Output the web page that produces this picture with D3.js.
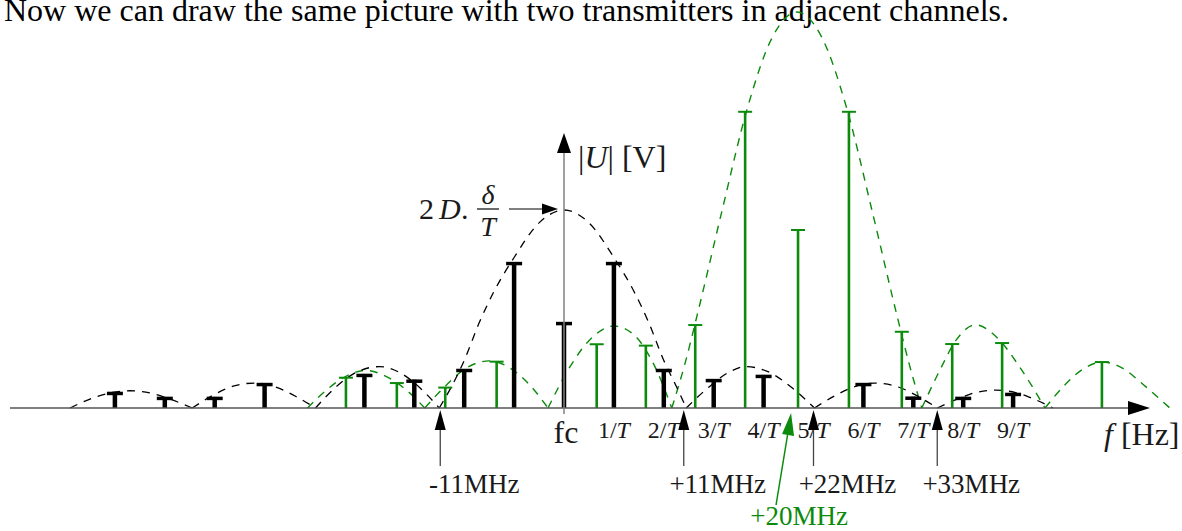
<!DOCTYPE html>
<html><head><meta charset="utf-8">
<script src="https://cdn.jsdelivr.net/npm/d3@7"></script>
<style>
body{margin:0;background:#fff}
svg{display:block}
text{font-family:"Liberation Serif","Times New Roman",serif;fill:#1a1a1a}
</style>
</head><body>
<svg id="c" width="1182" height="531"></svg>
<script>
// ---------- data ----------
const titleText = "Now we can draw the same picture with two transmitters in adjacent channels.";
const tickValues = [1,2,3,4,5,6,7,8,9];
const tickLabels = ["1","2","3","4","5","6","7","8","9"];
// frequency in units of 1/T relative to fc, amplitude relative to 2D·δ/T
const blackFreq = [-9,-8,-7,-6,-4,-3,-2,-1,0,1,2,3,4,6,7,8,9];
const blackAmp  = [0.081,0.056,0.056,0.126,0.172,0.143,0.197,0.737,0.434,0.737,0.197,0.146,0.167,0.126,0.057,0.056,0.076];
const greenFreq = [-4.37,-3.35,-2.38,-1.35,0.655,1.64,2.63,3.63,4.69,5.71,6.77,7.78,8.78,10.78];
const greenAmp  = [0.153,0.126,0.103,0.234,0.322,0.315,0.419,1.496,0.899,1.496,0.385,0.323,0.328,0.232];
const blackEnvelope = [
  [[-9.9,0],[-9.5,0.045],[-9.1,0.076],[-8.7,0.087],[-8.3,0.076],[-7.9,0.045],[-7.45,0]],
  [[-7.45,0],[-7.04,0.064],[-6.63,0.11],[-6.2,0.126],[-5.8,0.108],[-5.4,0.062],[-4.98,0]],
  [[-4.98,0],[-4.57,0.106],[-4.15,0.182],[-3.7,0.209],[-3.3,0.18],[-2.9,0.105],[-2.5,0]],
  [[-2.5,0],[-2.25,0.11],[-2,0.24],[-1.7,0.43],[-1.4,0.59],[-1,0.76],[-0.5,0.935],[0,1],[0.5,0.935],[1,0.76],[1.4,0.59],[1.7,0.43],[2,0.24],[2.25,0.11],[2.45,0]],
  [[2.45,0],[2.9,0.105],[3.3,0.18],[3.65,0.209],[4.1,0.182],[4.55,0.106],[5.02,0]],
  [[5.02,0],[5.43,0.062],[5.83,0.108],[6.22,0.126],[6.65,0.11],[7.06,0.064],[7.48,0]],
  [[7.48,0],[7.9,0.047],[8.25,0.078],[8.65,0.09],[9.05,0.078],[9.4,0.047],[9.8,0]]
];
const greenEnvelope = [
  [[-5.14,0],[-4.74,0.095],[-4.37,0.16],[-3.97,0.19],[-3.57,0.16],[-3.18,0.095],[-2.79,0]],
  [[-2.79,0],[-2.38,0.11],[-1.97,0.2],[-1.5,0.238],[-1.1,0.205],[-0.7,0.12],[-0.32,0]],
  [[-0.32,0],[0.1,0.2],[0.5,0.34],[1.0,0.414],[1.4,0.37],[1.8,0.22],[2.16,0]],
  [[2.16,0],[2.42,0.22],[2.67,0.47],[3.17,1.0],[3.67,1.51],[4.17,1.87],[4.67,2.0],[5.17,1.87],[5.67,1.51],[6.17,1.0],[6.67,0.47],[6.92,0.22],[7.17,0]],
  [[7.17,0],[7.55,0.2],[7.85,0.34],[8.25,0.42],[8.7,0.35],[9.15,0.2],[9.64,0]],
  [[9.64,0],[10.05,0.12],[10.42,0.2],[10.8,0.232],[11.2,0.2],[11.6,0.12],[12.14,0]]
];
const markerLabels = ["-11MHz","+11MHz","+22MHz","+33MHz"];
const markerFreq   = [-2.48, 2.4, 5.0, 7.48];
const greenMarkerLabel = "+20MHz";
const greenMarkerFreq = 4.55;

// ---------- drawing ----------
const GREEN = "#0b8a0b";
const svg = d3.select("#c");
const x = d3.scaleLinear().domain([0,10]).range([564,1063]);
const y = d3.scaleLinear().domain([0,1]).range([408,210]);
const y0 = y(0);

// title (its top touches the page edge, as in the reference)
svg.append("text").attr("x",4).attr("y",21).style("font-size","32px").style("fill","#000").text(titleText);

// envelopes
const env = d3.line().x(d=>x(d[0])).y(d=>y(d[1])).curve(d3.curveMonotoneX);
svg.append("g").selectAll("path").data(greenEnvelope).join("path")
  .attr("d",env).attr("fill","none").attr("stroke",GREEN).attr("stroke-width",1.4).attr("stroke-dasharray","8,7");
svg.append("g").selectAll("path").data(blackEnvelope).join("path")
  .attr("d",env).attr("fill","none").attr("stroke","#000").attr("stroke-width",1.3).attr("stroke-dasharray","8,7");

// green stems
const gData = greenFreq.map((f,i)=>({f,a:greenAmp[i]}));
const gg = svg.append("g");
gg.selectAll("line.s").data(gData).join("line").attr("class","s")
  .attr("x1",d=>x(d.f)).attr("x2",d=>x(d.f)).attr("y1",y0).attr("y2",d=>y(d.a))
  .attr("stroke",GREEN).attr("stroke-width",2.6);
gg.selectAll("line.c").data(gData).join("line").attr("class","c")
  .attr("x1",d=>x(d.f)-7).attr("x2",d=>x(d.f)+7).attr("y1",d=>y(d.a)).attr("y2",d=>y(d.a))
  .attr("stroke",GREEN).attr("stroke-width",2);

// black stems
const bData = blackFreq.map((f,i)=>({f,a:blackAmp[i]}));
const bg = svg.append("g");
bg.selectAll("line.s").data(bData).join("line").attr("class","s")
  .attr("x1",d=>x(d.f)).attr("x2",d=>x(d.f)).attr("y1",y0).attr("y2",d=>y(d.a))
  .attr("stroke","#000").attr("stroke-width",4.5);
bg.selectAll("line.c").data(bData).join("line").attr("class","c")
  .attr("x1",d=>x(d.f)-8).attr("x2",d=>x(d.f)+8).attr("y1",d=>y(d.a)+1.5).attr("y2",d=>y(d.a)+1.5)
  .attr("stroke","#000").attr("stroke-width",3.5);

// axes
svg.append("line").attr("x1",10).attr("x2",1132).attr("y1",y0).attr("y2",y0).attr("stroke","#555").attr("stroke-width",1.5);
svg.append("path").attr("d",`M1150,${y0} L1128,${y0-7} L1128,${y0+7} Z`).attr("fill","#000");
svg.append("line").attr("x1",x(0)).attr("x2",x(0)).attr("y1",y0+6).attr("y2",150).attr("stroke","#808080").attr("stroke-width",1.5);
svg.append("path").attr("d",`M${x(0)},133 L${x(0)-7},153 L${x(0)+7},153 Z`).attr("fill","#000");

// y label |U| [V]
const yl = svg.append("text").attr("x",578).attr("y",168).style("font-size","32px");
yl.append("tspan").text("|");
yl.append("tspan").style("font-style","italic").text("U");
yl.append("tspan").text("| [V]");

// 2D·δ/T annotation
svg.append("text").attr("x",419).attr("y",219).style("font-size","30px").text("2");
svg.append("text").attr("x",439).attr("y",219).style("font-size","30px").style("font-style","italic").text("D");
svg.append("text").attr("x",461).attr("y",219).style("font-size","30px").text(".");
svg.append("text").attr("x",488).attr("y",204).attr("text-anchor","middle").style("font-size","28px").style("font-style","italic").text("δ");
svg.append("line").attr("x1",477).attr("x2",499).attr("y1",209).attr("y2",209).attr("stroke","#1a1a1a").attr("stroke-width",1.3);
svg.append("text").attr("x",488).attr("y",236).attr("text-anchor","middle").style("font-size","28px").style("font-style","italic").text("T");
svg.append("line").attr("x1",509).attr("x2",546).attr("y1",209).attr("y2",209).attr("stroke","#555").attr("stroke-width",1.5);
svg.append("path").attr("d","M558,209 L542,203.5 L542,214.5 Z").attr("fill","#000");

// tick labels
const tl = svg.append("g").selectAll("text").data(tickValues).join("text")
  .attr("x",d=>x(d)).attr("y",438).attr("text-anchor","middle").style("font-size","24px");
tl.append("tspan").text((d,i)=>tickLabels[i]+"/");
tl.append("tspan").style("font-style","italic").text("T");
svg.append("text").attr("x",x(0)+2).attr("y",443).attr("text-anchor","middle").style("font-size","32px").text("fc");

// f [Hz]
const fl = svg.append("text").attr("x",1104).attr("y",445).style("font-size","32px");
fl.append("tspan").style("font-style","italic").text("f");
fl.append("tspan").text(" [Hz]");

// frequency markers
const mk = svg.append("g").selectAll("g").data(markerFreq).join("g");
mk.append("line").attr("x1",d=>x(d)).attr("x2",d=>x(d)).attr("y1",466).attr("y2",424).attr("stroke","#444").attr("stroke-width",1.3);
mk.append("path").attr("d",d=>`M${x(d)},410 L${x(d)-5.5},430 L${x(d)+5.5},430 Z`).attr("fill","#000");
mk.append("text").attr("x",d=>x(d)+34).attr("y",493).attr("text-anchor","middle").style("font-size","27px").text((d,i)=>markerLabels[i]);

// green marker (slanted)
const gx = x(greenMarkerFreq);
svg.append("line").attr("x1",gx-15).attr("y1",505).attr("x2",gx-3).attr("y2",432).attr("stroke",GREEN).attr("stroke-width",1.5);
svg.append("path").attr("d",`M${gx},413 L${gx-9},434 L${gx+3},436 Z`).attr("fill",GREEN);
svg.append("text").attr("x",gx+8).attr("y",525).attr("text-anchor","middle").style("font-size","27px").style("fill",GREEN).text(greenMarkerLabel);
</script>
</body></html>
